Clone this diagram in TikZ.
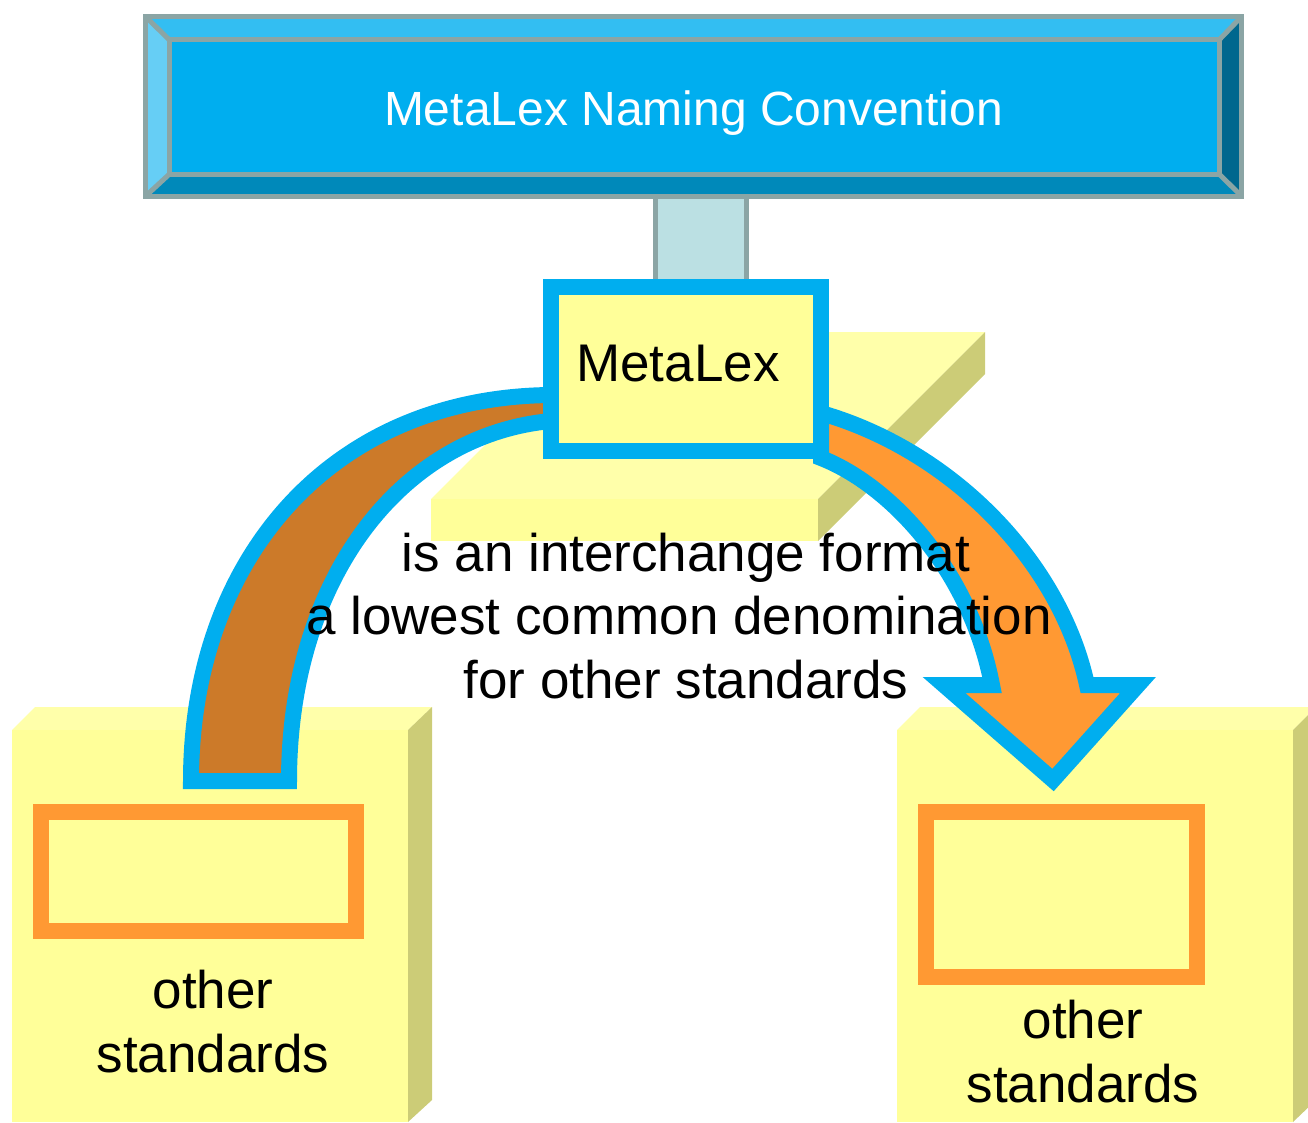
\documentclass[tikz,border=0pt]{standalone}
\usepackage{fontspec}
\setmainfont{Liberation Sans}
\usetikzlibrary{positioning,calc}

\definecolor{mlcyan}{HTML}{00AEEF}
\definecolor{bevtop}{HTML}{33BEF2}
\definecolor{bevleft}{HTML}{66CEF5}
\definecolor{bevbot}{HTML}{0089BA}
\definecolor{bevright}{HTML}{00678E}
\definecolor{rimgray}{HTML}{8BA5A5}
\definecolor{stemfill}{HTML}{BBE0E3}
\definecolor{padfront}{HTML}{FFFF99}
\definecolor{padtop}{HTML}{FFFFAA}
\definecolor{padside}{HTML}{CCCC77}
\definecolor{arrbrown}{HTML}{CC7A29}
\definecolor{arrorange}{HTML}{FF9933}

\tikzset{
  rim/.style={draw=rimgray, line width=5pt},
  band/.style={draw=mlcyan, line width=16pt, line join=miter},
  slot/.style={draw=arrorange, line width=16pt, fill=padfront},
  label/.style={font=\fontsize{53}{63.5}\selectfont, align=center, inner sep=0pt}
}

\begin{document}
\begin{tikzpicture}[x=1pt, y=-1pt]
    \useasboundingbox (0,0) rectangle (1308,1122);
    \clip (0,0) rectangle (1308,1122);

    % Platform behind MetaLex
    \fill[padtop] (431,499) -- (598,332) -- (985,332) -- (818,499) -- cycle;
    \fill[padside] (818,499) -- (985,332) -- (985,374) -- (818,541) -- cycle;
    \fill[padfront] (431,499) rectangle (818,541);

    % Left block
    \fill[padtop] (12,730) -- (35,707) -- (432,707) -- (408,730) -- cycle;
    \fill[padside] (408,730) -- (432,707) -- (432,1100) -- (408,1122) -- cycle;
    \fill[padfront] (12,730) rectangle (408,1122);
    \node[slot, minimum width=315pt, minimum height=119pt] (leftslot) at (198.5,871.5) {};
    \node[label, anchor=base] (leftlbl) at (213,1072) {other\\standards};

    % Right block
    \fill[padtop] (897,730) -- (920,707) -- (1316,707) -- (1293,730) -- cycle;
    \fill[padside] (1293,730) -- (1316,707) -- (1316,1100) -- (1293,1122) -- cycle;
    \fill[padfront] (897,730) rectangle (1293,1122);
    \node[slot, minimum width=271pt, minimum height=165pt] (rightslot) at (1061.5,894.5) {};
    \node[label, anchor=base] (rightlbl) at (1083,1102) {other\\standards};

    % Stem
    \draw[rim, fill=stemfill] (655.5,190) rectangle (746.5,285);

    % Banner
    \coordinate (o1) at (145.7,16.7);
    \coordinate (o2) at (1241.5,16.7);
    \coordinate (o3) at (1241.5,196);
    \coordinate (o4) at (145.7,196);
    \coordinate (i1) at (169,39.5);
    \coordinate (i2) at (1219.5,39.5);
    \coordinate (i3) at (1219.5,174.5);
    \coordinate (i4) at (169,174.5);
    \fill[bevtop] (o1) -- (o2) -- (i2) -- (i1) -- cycle;
    \fill[bevright] (o2) -- (o3) -- (i3) -- (i2) -- cycle;
    \fill[bevbot] (o4) -- (o3) -- (i3) -- (i4) -- cycle;
    \fill[bevleft] (o1) -- (o4) -- (i4) -- (i1) -- cycle;
    \fill[mlcyan] (i1) rectangle (i3);
    \draw[rim] (o1) rectangle (o3);
    \draw[rim] (i1) rectangle (i3);
    \draw[rim] (o1) -- (i1) (o2) -- (i2) (o3) -- (i3) (o4) -- (i4);
    \node[anchor=base, text=white, font=\fontsize{48}{58}\selectfont] (title) at (693.5,125) {MetaLex Naming Convention};

    % Curved arrows
    \draw[band, fill=arrbrown] (191,781) .. controls (191,560) and (330,397) .. (551,395)
        -- (551,421) .. controls (400,435) and (289,580) .. (289,781) -- cycle;
    \draw[band, fill=arrorange] (821,413) .. controls (950,450) and (1060,560) .. (1087,685)
        -- (1138,685) -- (1053,780) -- (944,685) -- (992,685)
        .. controls (970,570) and (890,485) .. (821,458) -- cycle;

    % MetaLex
    \node[draw=mlcyan, line width=16pt, fill=padfront, minimum width=270pt, minimum height=164pt,
          font=\fontsize{53}{63}\selectfont, text height=37pt, text depth=13pt] (metalex) at (686,369) {MetaLex\hspace*{16pt}};

    \node[label, anchor=base] (note) at (686,698) {is an interchange format\\a lowest common denomination\rule{14pt}{0pt}\\for other standards};
\end{tikzpicture}
\end{document}
